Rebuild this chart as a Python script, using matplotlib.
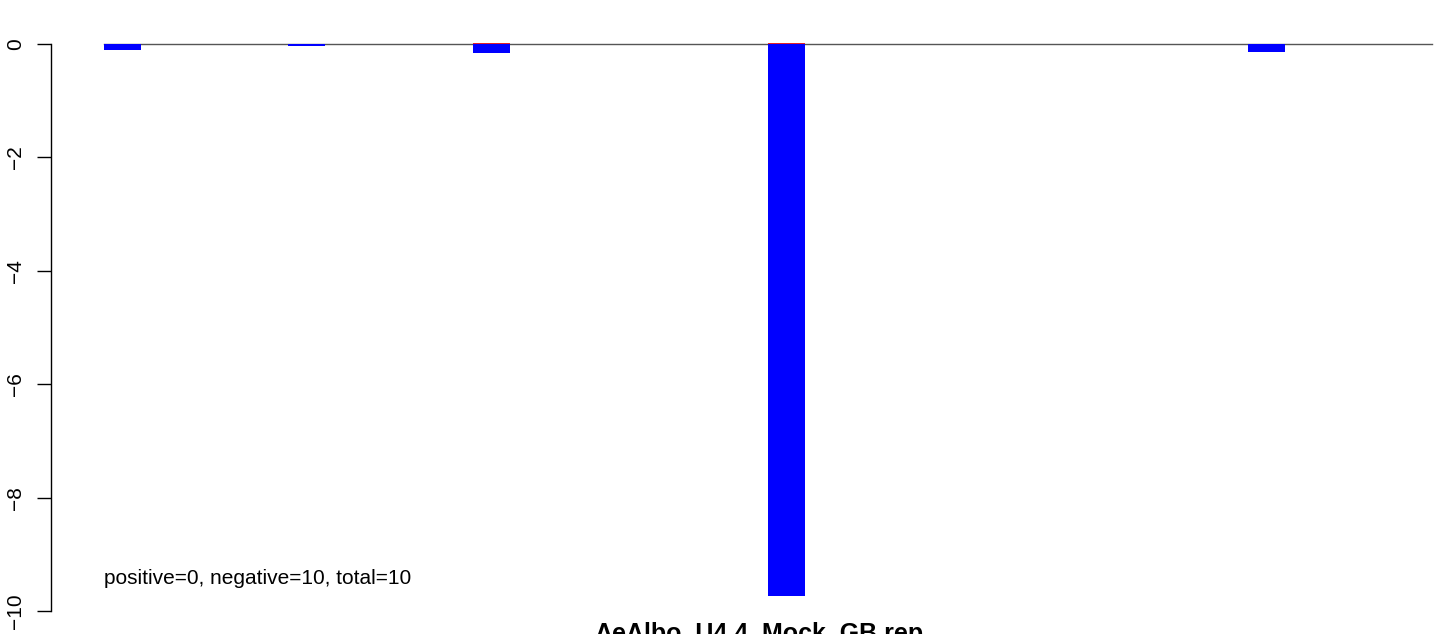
import matplotlib
matplotlib.use("Agg")
import matplotlib.pyplot as plt

# data
bar_pos = [0, 1, 2, 3.6, 6.2]
neg_values = [-0.11, -0.035, -0.16, -9.74, -0.135]
pos_values = [0, 0, 0.02, 0.02, 0]
yticks = [0, -2, -4, -6, -8, -10]
ytick_labels = ["0", "\u22122", "\u22124", "\u22126", "\u22128", "\u221210"]
note = "positive=0, negative=10, total=10"
title = "AeAlbo_U4.4_Mock_GB.rep"

plt.rcParams['font.family'] = ['Liberation Sans', 'DejaVu Sans']

W, H = 1444, 634
fig = plt.figure(figsize=(W / 100, H / 100), dpi=100)
left_px, right_px, top_px, bot_px = 51, 1432, 44, 611
ax = fig.add_axes([left_px / W, (H - bot_px) / H, (right_px - left_px) / W, (bot_px - top_px) / H])

bw = 0.2005
xmin, xmax = -0.3875, 7.098
ax.set_xlim(xmin, xmax)
ax.set_ylim(-10, 0)

ax.plot([bar_pos[0] - bw / 2, xmax], [0, 0], color="#555555", lw=1.0, zorder=1, clip_on=False)
ax.bar(bar_pos, neg_values, width=bw, color="#0000FF", linewidth=0, zorder=2, clip_on=False)
ax.bar(bar_pos, pos_values, width=bw, color="#E0202A", linewidth=0, zorder=3, clip_on=False)

for s in ["top", "right", "bottom"]:
    ax.spines[s].set_visible(False)
ax.spines["left"].set_linewidth(1.0)
ax.set_xticks([])
ax.set_yticks(yticks)
ax.set_yticklabels(ytick_labels, rotation=90, va="center", fontsize=15)
ax.tick_params(axis="y", length=10, width=1.0, pad=8.6)

ax.text(bar_pos[0] - bw / 2, -9.53, note, fontsize=15, ha="left", va="baseline")

fig.text(759 / W, (H - 641) / H, title, fontsize=18, fontweight="bold", ha="center", va="baseline")

fig.savefig("out.png", dpi=100)
